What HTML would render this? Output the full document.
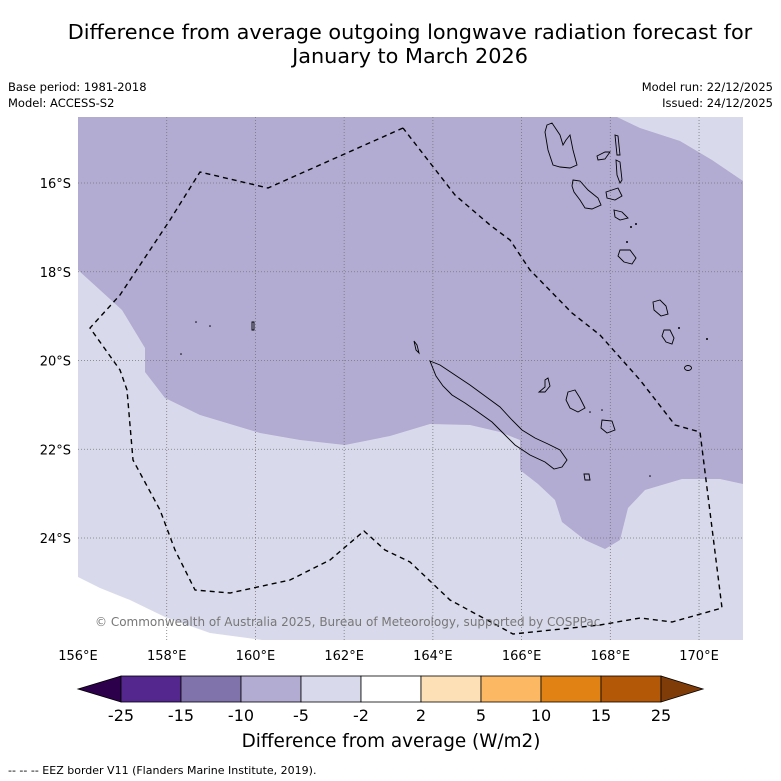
<!DOCTYPE html>
<html><head><meta charset="utf-8"><style>
body{margin:0;background:#fff;font-family:"DejaVu Sans","Liberation Sans",sans-serif;}
#wrap{position:relative;width:781px;height:781px;overflow:hidden;}
</style></head><body>
<div id="wrap">
<svg id="svg" width="781" height="781" xmlns="http://www.w3.org/2000/svg" font-family="DejaVu Sans, Liberation Sans, sans-serif">
<text x="410" y="39" text-anchor="middle" font-size="20.8">Difference from average outgoing longwave radiation forecast for</text>
<text x="410" y="63" text-anchor="middle" font-size="20.8">January to March 2026</text>
<text x="8" y="91" font-size="11.5">Base period: 1981-2018</text>
<text x="8" y="107" font-size="11.5">Model: ACCESS-S2</text>
<text x="773" y="91" font-size="11.5" text-anchor="end">Model run: 22/12/2025</text>
<text x="773" y="107" font-size="11.5" text-anchor="end">Issued: 24/12/2025</text>
<g>
<rect x="78" y="117" width="665" height="523" fill="#d8daeb"/>
<polygon fill="#b2abd2" points="78,117 617,117 640,128 680,141 712,160 743,181 743,484 720,479 682,479 645,490 628,508 620,540 605,549 585,540 562,522 555,500 538,484 520,470 520,440 500,432 470,425 430,424 390,436 345,445 300,440 260,433 200,415 165,398 145,372 145,348 122,310 78,270"/>
<polygon fill="#ffffff" points="78,577 100,588 130,600 165,617 210,633 262,640 78,640"/>
<g id="grid" stroke="#777" stroke-width="0.8" stroke-dasharray="1,2"></g>
<g fill="none" stroke="#000" stroke-width="0.9">
<path d="M414,341 L417,345 L419,353 L416,350 Z"/>
<path d="M430,361 L440,365 L455,375 L470,385 L485,396 L500,407 L512,420 L522,430 L535,438 L548,444 L560,450 L567,460 L562,467 L554,469 L545,462 L530,455 L515,445 L503,433 L492,422 L478,412 L465,403 L452,395 L443,386 L436,376 Z"/>
<path d="M545,380 L548,378 L550,386 L545,392 L539,392 L545,387 Z"/>
<path d="M568,392 L575,390 L580,398 L585,408 L578,412 L570,408 L566,400 Z"/>
<path d="M602,420 L612,421 L615,430 L607,433 L601,428 Z"/>
<path d="M584,474 L589,474 L590,480 L585,480 Z"/>
<path d="M547,125 L552,123 L560,135 L563,145 L566,140 L570,135 L573,150 L577,165 L570,168 L560,167 L553,165 L548,150 L545,132 Z"/>
<path d="M597,156 L605,152 L610,152 L605,159 L598,160 Z"/>
<path d="M615,135 L618,136 L620,155 L617,155 Z"/>
<path d="M616,160 L620,162 L622,180 L620,183 L617,175 Z"/>
<path d="M573,180 L580,181 L588,190 L598,198 L601,205 L592,209 L585,208 L580,200 L574,192 L572,186 Z"/>
<path d="M606,192 L618,188 L622,196 L615,200 L607,198 Z"/>
<path d="M614,210 L622,212 L628,218 L620,220 L615,217 Z"/>
<path d="M620,250 L630,250 L636,258 L632,264 L624,262 L618,256 Z"/>
<path d="M653,302 L660,300 L666,306 L668,314 L661,316 L654,310 Z"/>
<path d="M664,330 L670,330 L674,338 L672,344 L666,342 L662,336 Z"/>
<ellipse cx="688" cy="368" rx="3.5" ry="2.5"/>
<path d="M252,322 L254,322 L254,330 L252,330 Z"/>
</g>
<g fill="#000">
<circle cx="679" cy="328" r="1"/><circle cx="707" cy="339" r="1"/><circle cx="650" cy="476" r="0.8"/><circle cx="181" cy="354" r="0.8"/><circle cx="196" cy="322" r="0.8"/><circle cx="210" cy="326" r="0.8"/><circle cx="631" cy="227" r="1"/><circle cx="627" cy="242" r="1"/><circle cx="636" cy="224" r="1"/><circle cx="590" cy="412" r="0.8"/><circle cx="602" cy="410" r="0.8"/>
</g>
<polyline fill="none" stroke="#000" stroke-width="1.4" stroke-dasharray="5,4" points="403,128 268,188 200,172 170,220 120,295 90,328 120,370 127,390 133,460 160,510 175,550 195,590 230,593 290,580 330,560 364,531 385,550 410,562 450,600 513,634 600,625 640,618 672,622 722,608 700,432 675,425 640,380 600,335 572,313 530,270 510,240 490,225 455,195 403,128"/>
<text x="95" y="626" font-size="12" fill="#777">© Commonwealth of Australia 2025, Bureau of Meteorology, supported by COSPPac</text>
</g>
<g id="axes" font-size="13"></g>
<g id="cbar"></g>
<text x="391" y="747" text-anchor="middle" font-size="18.4">Difference from average (W/m2)</text>
<text x="8" y="774" font-size="11">--  --  -- EEZ border V11 (Flanders Marine Institute, 2019).</text>
</svg>
</div>
<script>
const lonTicks=[156,158,160,162,164,166,168,170];
const latTicks=[16,18,20,22,24];
const cbLevels=["-25","-15","-10","-5","-2","2","5","10","15","25"];
const cbColors=["#54278f","#8073ac","#b2abd2","#d8daeb","#ffffff","#fee0b6","#fdb863","#e08214","#b35806"];
const cbLow="#2d004b", cbHigh="#7f3b08";
const NS="http://www.w3.org/2000/svg";
const X=lon=>78+(lon-156)*44.36;
const Y=lat=>183+(lat-16)*44.375;
function mk(t,a,p){const e=document.createElementNS(NS,t);for(const k in a)e.setAttribute(k,a[k]);p.appendChild(e);return e;}
const grid=document.getElementById('grid'),axes=document.getElementById('axes'),cb=document.getElementById('cbar');
lonTicks.forEach(l=>{
  if(l>156){const g=mk('line',{x1:X(l),x2:X(l),y1:117,y2:640},grid);
  
  }
  const t=mk('text',{x:X(l),y:660,'text-anchor':'middle'},axes);t.textContent=l+'°E';
  
  
});
latTicks.forEach(l=>{
  const g=mk('line',{x1:78,x2:743,y1:Y(l),y2:Y(l)},grid);
  
  
  const t=mk('text',{x:71,y:Y(l)+5,'text-anchor':'end'},axes);t.textContent=l+'°S';
  
  
});
const x0=121,w=60,y0=676,h=26;
const lo=mk('polygon',{points:`78,${y0+h/2} ${x0},${y0} ${x0},${y0+h}`,fill:cbLow,stroke:'#000','stroke-width':0.8},cb);


cbColors.forEach((c,i)=>{
  const r=mk('rect',{x:x0+i*w,y:y0,width:w,height:h,fill:c,stroke:'#000','stroke-width':0.8},cb);
  
  
});
const xe=x0+cbColors.length*w;
const hi=mk('polygon',{points:`${xe},${y0} ${xe+42},${y0+h/2} ${xe},${y0+h}`,fill:cbHigh,stroke:'#000','stroke-width':0.8},cb);


cbLevels.forEach((v,i)=>{
  const t=mk('text',{x:x0+i*w,y:721,'text-anchor':'middle','font-size':16},cb);t.textContent=v;
  
  
});
</script>
</body></html>
